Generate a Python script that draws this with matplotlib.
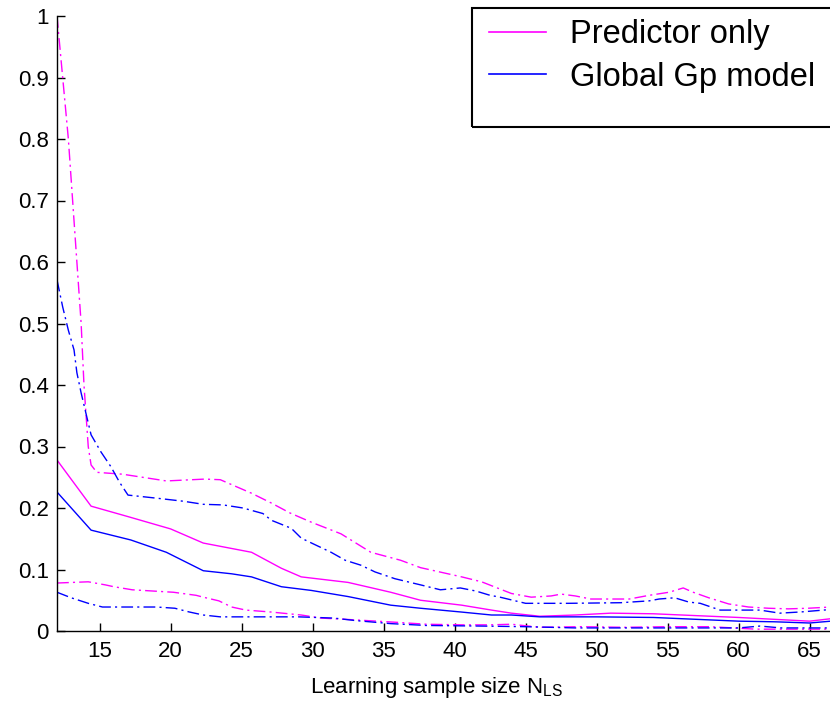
import matplotlib
matplotlib.use("Agg")
import matplotlib.pyplot as plt
from matplotlib.patches import Rectangle
from matplotlib.lines import Line2D

# ---- data ----
pm_x = [12, 14.4, 17, 20, 22.3, 25.7, 27.8, 29.2, 32.5, 35.5, 37.6, 40.5, 42.6, 44, 46, 48.5, 51, 54, 57, 60, 62.5, 65, 66.5]
pm_y = [0.278, 0.203, 0.186, 0.166, 0.143, 0.128, 0.102, 0.088, 0.079, 0.063, 0.050, 0.042, 0.034, 0.029, 0.024, 0.026, 0.029, 0.028, 0.025, 0.022, 0.019, 0.016, 0.020]

pu_x = [12, 12.4, 12.8, 13.1, 13.4, 13.7, 13.9, 14.2, 14.4, 14.8, 16.6, 19.7, 22.4, 23.5, 25.7, 27.1, 28.4, 29.9, 32, 34.1, 36.2, 37.6, 40.5, 41.9, 44, 45.4, 46.8, 47.5, 48.5, 49.6, 52.3, 53.7, 55.1, 56.1, 56.8, 57.9, 59.3, 60.7, 62.1, 63.5, 64.9, 66.5]
pu_y = [1.0, 0.9, 0.8, 0.7, 0.6, 0.5, 0.4, 0.30, 0.27, 0.258, 0.255, 0.244, 0.247, 0.246, 0.224, 0.208, 0.192, 0.177, 0.158, 0.128, 0.115, 0.103, 0.088, 0.080, 0.061, 0.055, 0.057, 0.060, 0.057, 0.052, 0.052, 0.058, 0.063, 0.070, 0.063, 0.054, 0.044, 0.039, 0.037, 0.036, 0.037, 0.039]

pl_x = [12, 14.2, 15.4, 16, 17.3, 20.2, 21.8, 22.3, 23.4, 24.3, 25.3, 27, 29.2, 30.6, 32.3, 36, 38, 40.5, 42.5, 44, 46, 48.9, 52, 55, 58, 61.2, 66.5]
pl_y = [0.078, 0.080, 0.075, 0.072, 0.067, 0.063, 0.058, 0.055, 0.049, 0.039, 0.034, 0.031, 0.026, 0.021, 0.019, 0.014, 0.011, 0.010, 0.010, 0.011, 0.006, 0.007, 0.006, 0.007, 0.007, 0.003, 0.003]

gm_x = [12, 14.4, 17.2, 19.7, 22.3, 24.3, 25.7, 27.8, 29.9, 32.5, 35.5, 37.6, 40.4, 42.6, 44, 46, 50, 54, 57, 60, 62.5, 65, 66.5]
gm_y = [0.226, 0.164, 0.148, 0.128, 0.098, 0.093, 0.088, 0.072, 0.066, 0.056, 0.042, 0.037, 0.031, 0.026, 0.026, 0.023, 0.023, 0.022, 0.019, 0.016, 0.015, 0.013, 0.016]

gu_x = [12, 12.4, 12.8, 13.2, 13.4, 13.7, 14.1, 14.4, 15.1, 15.8, 16.4, 17, 19, 20.9, 22.3, 23.7, 25.1, 26.5, 27.1, 28.5, 29.2, 30.2, 31.3, 32.3, 33.4, 34.4, 35.8, 37.6, 39, 40.4, 41.5, 42.5, 43.2, 45, 48, 51.7, 53.7, 54.4, 55.5, 56.5, 57.3, 58.7, 61.5, 62.9, 64.4, 66.5]
gu_y = [0.571, 0.527, 0.489, 0.457, 0.42, 0.387, 0.348, 0.319, 0.291, 0.267, 0.242, 0.221, 0.216, 0.211, 0.206, 0.205, 0.200, 0.191, 0.180, 0.167, 0.151, 0.140, 0.128, 0.115, 0.107, 0.096, 0.085, 0.075, 0.067, 0.070, 0.065, 0.058, 0.055, 0.045, 0.045, 0.046, 0.049, 0.052, 0.054, 0.047, 0.045, 0.034, 0.034, 0.029, 0.031, 0.035]

gl_x = [12, 13, 14.2, 15.2, 19, 20.3, 21.3, 22.3, 23.5, 29, 31.5, 33, 35.5, 38, 42, 45, 48.5, 52, 56, 60, 61.5, 63, 66.5]
gl_y = [0.063, 0.054, 0.045, 0.039, 0.039, 0.037, 0.031, 0.026, 0.023, 0.023, 0.021, 0.017, 0.012, 0.009, 0.008, 0.007, 0.005, 0.005, 0.005, 0.005, 0.008, 0.005, 0.005]

x_ticks = [15, 20, 25, 30, 35, 40, 45, 50, 55, 60, 65]
y_ticks = [0, 0.1, 0.2, 0.3, 0.4, 0.5, 0.6, 0.7, 0.8, 0.9, 1.0]
y_tick_labels = ['0', '0.1', '0.2', '0.3', '0.4', '0.5', '0.6', '0.7', '0.8', '0.9', '1']
legend_labels = ['Predictor only', 'Global Gp model']
x_label = r'Learning sample size N$_\mathregular{LS}$'

MAG = '#ff00ff'
BLU = '#0000ff'

plt.rcParams['font.family'] = ['Liberation Sans', 'DejaVu Sans']
plt.rcParams['lines.scale_dashes'] = False

fig = plt.figure(figsize=(8.30, 7.01), dpi=100)
W, H = 830, 701
ax = fig.add_axes([57 / W, (H - 631) / H, (830 - 57) / W, (631 - 16) / H])

dd = (0, (8.5, 3.0, 1.5, 3.0))
lw = 1.0
ax.plot(pm_x, pm_y, color=MAG, lw=lw)
ax.plot(pu_x, pu_y, color=MAG, lw=lw, linestyle=dd)
ax.plot(pl_x, pl_y, color=MAG, lw=lw, linestyle=dd)
ax.plot(gm_x, gm_y, color=BLU, lw=lw)
ax.plot(gu_x, gu_y, color=BLU, lw=lw, linestyle=dd)
ax.plot(gl_x, gl_y, color=BLU, lw=lw, linestyle=dd)

ax.set_xlim(12, 12 + (830 - 57) / 14.2)
ax.set_ylim(0, 1)
ax.set_xticks(x_ticks)
ax.set_yticks(y_ticks)
ax.set_yticklabels(y_tick_labels)
for s in ['top', 'right']:
    ax.spines[s].set_visible(False)
for s in ['left', 'bottom']:
    ax.spines[s].set_linewidth(1.0)
    ax.spines[s].set_color('black')
ax.tick_params(direction='in', length=6, width=1.0, labelsize=16, pad=6, colors='black')
ax.tick_params(axis='x', pad=7)
ax.set_xlabel(x_label, fontsize=16)
ax.xaxis.set_label_coords((437 - 57) / (830 - 57), -(687 - 631) / (631 - 16), transform=ax.transAxes)
ax.xaxis.label.set_va('center')

# legend
handles = [Line2D([], [], color=MAG, lw=1.2), Line2D([], [], color=BLU, lw=1.2)]
leg = fig.legend(handles, legend_labels, loc='upper left',
                 bbox_to_anchor=(489 / W, 1 - 19 / H), frameon=False,
                 fontsize=23.5, handlelength=1.75, handletextpad=0.72,
                 borderpad=0, borderaxespad=0, labelspacing=0.36)
fig.add_artist(Rectangle((472 / W, 1 - 127 / H), (835 - 472) / W, (127 - 8) / H,
                         transform=fig.transFigure, fill=False, edgecolor='black',
                         lw=1.5, clip_on=False))

fig.savefig('out.png', dpi=100)
